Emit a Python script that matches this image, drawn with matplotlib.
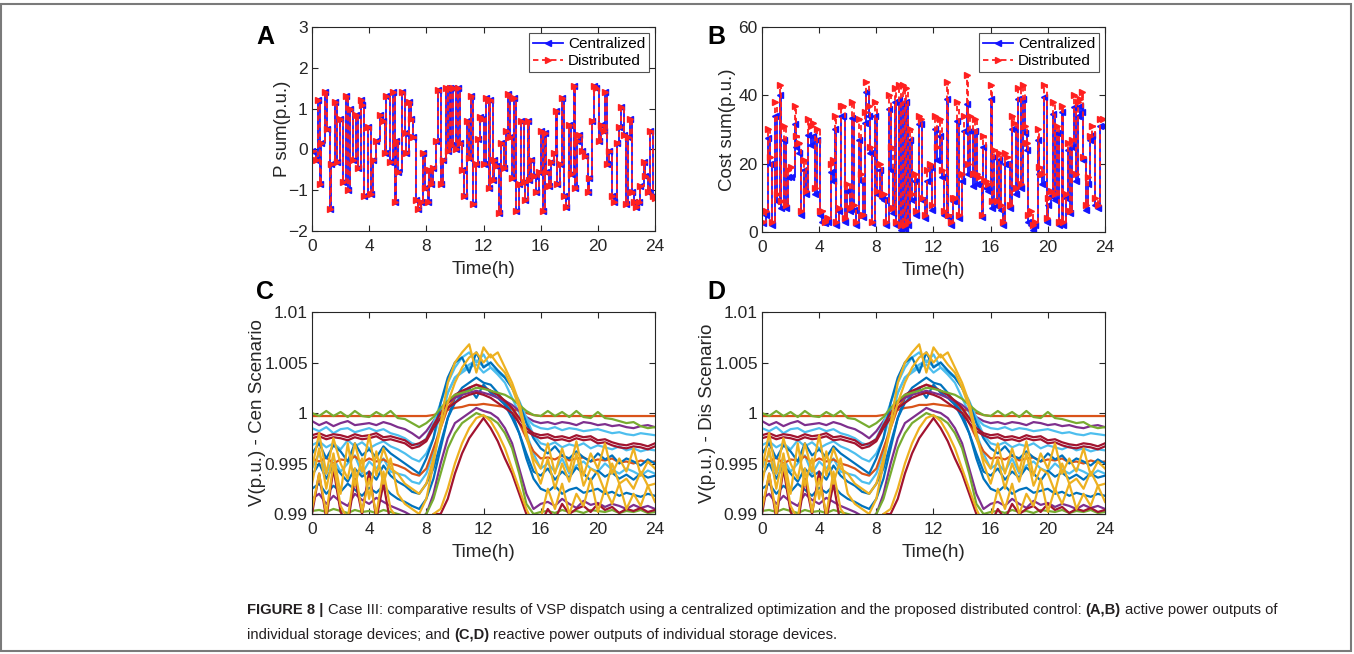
import numpy as np
import matplotlib.pyplot as plt
from matplotlib.patches import Rectangle

plt.rcParams['font.family'] = ['Liberation Sans', 'DejaVu Sans']

# ---- panel A: P sum (p.u.), centralized ~ distributed
p_time = [0.0, 0.3, 0.4, 0.55, 0.65, 0.9, 1.05, 1.25, 1.35, 1.6,
          1.75, 1.95, 2.15, 2.35, 2.55, 2.65, 2.9, 3.05, 3.2, 3.4,
          3.5, 3.65, 3.9, 4.15, 4.25, 4.5, 4.75, 4.95, 5.1, 5.2,
          5.45, 5.7, 5.8, 5.9, 6.05, 6.3, 6.5, 6.6, 6.8, 6.95,
          7.1, 7.25, 7.45, 7.6, 7.75, 7.9, 8.1, 8.2, 8.35, 8.5,
          8.7, 8.85, 9.05, 9.2, 9.35, 9.5, 9.65, 9.75, 9.9, 10.05,
          10.2, 10.35, 10.5, 10.65, 10.85, 11.0, 11.1, 11.25, 11.45, 11.6,
          11.75, 11.9, 12.05, 12.2, 12.35, 12.45, 12.65, 12.75, 12.9, 13.05,
          13.2, 13.4, 13.55, 13.7, 13.85, 14.0, 14.15, 14.3, 14.45, 14.65,
          14.8, 14.9, 15.1, 15.2, 15.35, 15.5, 15.7, 15.85, 16.0, 16.15,
          16.3, 16.4, 16.6, 16.75, 16.9, 17.05, 17.15, 17.35, 17.5, 17.65,
          17.8, 18.0, 18.1, 18.3, 18.4, 18.55, 18.7, 18.9, 19.1, 19.3,
          19.4, 19.6, 19.75, 19.9, 20.05, 20.2, 20.4, 20.5, 20.65, 20.8,
          21.0, 21.15, 21.35, 21.5, 21.65, 21.8, 21.95, 22.1, 22.25, 22.4,
          22.55, 22.7, 22.85, 22.95, 23.2, 23.3, 23.5, 23.65, 23.85, 24.0]
p_sum = [-0.05, -0.25, 1.2, -0.85, 0.15, 1.4, 0.5, -1.45, -0.35, 1.15,
         -0.3, 0.75, -0.8, 1.3, -1.0, 1.0, -0.25, 0.85, -0.45, 1.2,
         1.1, -1.15, 0.55, -1.1, -0.25, 0.2, 0.85, 0.7, -0.1, 1.3,
         -0.3, 1.4, -1.3, 0.2, -0.55, 1.4, 0.4, -0.1, 1.15, 0.75,
         0.3, -1.25, -1.45, -1.3, -0.1, -0.95, -1.3, -0.5, -0.85, -0.45,
         0.2, 1.45, -0.85, -0.25, 1.5, -0.05, 1.5, 0.1, 1.5, 0.0,
         1.5, 0.15, -0.5, -1.15, 0.7, -0.2, 1.3, -1.35, -0.35, 0.25,
         0.8, 0.75, -0.35, 1.25, -0.95, 1.2, -0.75, -0.25, -0.4, -1.55,
         0.15, -0.45, 0.45, 1.35, 0.3, -0.7, 1.25, -1.5, -0.85, 0.7,
         -0.8, -1.25, 0.7, -0.75, -0.25, -0.65, -1.05, -0.55, 0.45, -1.5,
         0.4, -0.55, -0.9, -0.3, -0.1, 0.95, -0.85, -0.35, 1.25, -1.15,
         -1.4, 0.6, -0.6, 1.55, -0.95, 0.2, 0.35, -0.05, -0.15, -1.05,
         -0.7, 0.7, 1.55, 1.5, 0.2, 0.6, 0.45, 1.4, -0.35, -0.05,
         -1.15, -1.3, 0.15, 0.55, 1.05, 0.35, -1.35, 0.3, 0.75, -1.05,
         -1.3, -1.4, -1.3, -0.9, -0.3, -0.65, -1.05, 0.45, -1.15, -1.2]

# ---- panel B: cost sum (p.u.)
c_time = [0.07, 0.3, 0.42, 0.58, 0.72, 0.89, 1.05, 1.24, 1.35, 1.52,
          1.66, 1.82, 2.05, 2.29, 2.4, 2.57, 2.76, 2.92, 3.1, 3.22,
          3.46, 3.57, 3.74, 3.85, 4.04, 4.23, 4.39, 4.62, 4.86, 4.97,
          5.09, 5.21, 5.37, 5.56, 5.67, 5.84, 5.95, 6.14, 6.3, 6.42,
          6.61, 6.79, 6.96, 7.07, 7.19, 7.31, 7.47, 7.59, 7.73, 7.89,
          8.06, 8.24, 8.41, 8.55, 8.71, 8.87, 9.06, 9.18, 9.29, 9.41,
          9.57, 9.71, 9.88, 9.99, 10.11, 10.23, 10.34, 10.51, 10.69, 10.81,
          10.97, 11.11, 11.23, 11.39, 11.56, 11.74, 11.91, 12.09, 12.26, 12.45,
          12.56, 12.75, 12.91, 13.03, 13.19, 13.33, 13.5, 13.66, 13.78, 13.96,
          14.12, 14.31, 14.43, 14.55, 14.73, 14.9, 15.01, 15.18, 15.36, 15.48,
          15.64, 15.83, 15.99, 16.11, 16.25, 16.41, 16.58, 16.72, 16.83, 17.0,
          17.16, 17.35, 17.46, 17.63, 17.77, 17.93, 18.09, 18.23, 18.4, 18.51,
          18.63, 18.8, 18.94, 19.1, 19.29, 19.4, 19.57, 19.73, 19.92, 20.03,
          20.2, 20.38, 20.5, 20.62, 20.78, 20.97, 21.08, 21.25, 21.39, 21.55,
          21.71, 21.83, 21.97, 22.13, 22.25, 22.37, 22.48, 22.65, 22.79, 22.95,
          23.11, 23.3, 23.49, 23.65, 23.88]
cost_cen = [2.5, 5, 27.5, 20, 2, 34, 9, 40, 7, 27,
            7, 16, 16, 31.5, 25, 23, 5, 18, 11, 28.5,
            25.5, 28, 11, 27, 5, 3, 2.5, 3, 17.5, 15,
            30, 2, 6, 34, 34, 3, 12, 6, 33.5, 6.5,
            2, 27, 15, 4.5, 32, 41, 34, 23, 2.5, 34,
            11, 18, 10, 9.5, 2, 36, 18, 5.5, 38, 2,
            38.5, 0.5, 37.5, 1, 38, 2, 27, 9.5, 15, 5,
            31.5, 31.5, 9.5, 4, 15, 19, 6.5, 30, 21, 28,
            16, 5, 39, 4.5, 2, 9, 9, 32.5, 4, 15,
            29.5, 37.5, 17, 29.5, 13.5, 29.5, 14, 14, 4.5, 25,
            13, 12, 39, 7, 22, 7.5, 21, 6.5, 2, 20,
            20, 7, 30, 30, 11, 39, 13, 39, 29, 24,
            3, 2, 0.5, 2, 27, 17, 14, 39.5, 3, 8,
            10.5, 34.5, 9.5, 29, 2, 35, 2, 10, 24, 5.5,
            25, 36.5, 15, 34, 37, 35, 21, 6.5, 14, 27,
            28.5, 8, 7, 31, 31]
cost_dis = [3, 6, 30, 22, 3, 38, 11, 43, 9, 31,
            8, 18, 19, 37, 28, 26, 6, 21, 12, 33,
            31, 32, 13, 30, 6, 6, 3, 4, 20, 21,
            34, 3, 7, 37, 37, 4, 14, 7, 38, 8,
            3, 33, 17, 5, 35, 44, 37, 25, 3, 38,
            12, 20, 11, 11, 3, 40, 25, 7, 42, 3,
            43, 2, 43, 2, 42, 3, 30, 11, 17, 6,
            34, 33, 10, 5, 18, 20, 8, 34, 25, 33,
            18, 6, 44, 5, 3, 10, 10, 38, 5, 17,
            34, 46, 20, 34, 17, 33, 17, 16, 5, 28,
            15, 14, 43, 9, 24, 9, 23, 8, 3, 23,
            22, 8, 34, 32, 13, 42, 14, 43, 31, 26,
            5, 6, 2, 3, 30, 19, 17, 43, 4, 10,
            12, 38, 11, 31, 3, 37, 3, 11, 26, 6,
            27, 40, 17, 38, 39, 41, 22, 8, 16, 28,
            31, 10, 8, 33, 33]

# ---- panels C/D: bus voltages, half-hour steps, in 1e-4 p.u. from 1.0
v_time = [0, 0.5, 1, 1.5, 2, 2.5, 3, 3.5, 4, 4.5, 5, 5.5, 6, 6.5, 7, 7.5, 8,
          8.5, 9, 9.5, 10, 10.5, 11, 11.5, 12, 12.5, 13, 13.5, 14, 14.5, 15,
          15.5, 16, 16.5, 17, 17.5, 18, 18.5, 19, 19.5, 20, 20.5, 21, 21.5,
          22, 22.5, 23, 23.5, 24]
v_orange = [-3, -3, -3, -3, -3, -3, -3, -3, -3, -3, -3, -3, -3, -3, -3, -3, -3,
            -2, 0, 3, 5, 6, 8, 8, 9, 8, 7, 6, 4, 2, 0, -2,
            -3, -3, -3, -3, -3, -3, -3, -3, -3, -3, -3, -3, -3, -3, -3, -3, -3]
v_green = [0, -3, 2, -3, 1, -4, 2, -3, -4, 1, -3, 2, -5, -6, -10, -14, -10,
           -4, 5, 12, 18, 20, 22, 25, 24, 22, 20, 18, 14, 8, 2, -2,
           -3, 2, -3, 1, -4, 2, -4, -5, 1, -5, -6, -8, -10, -9, -13, -15, -14]
v_purple = [-8, -12, -9, -13, -10, -8, -12, -11, -10, -12, -9, -11, -14, -16, -20, -25, -18,
            -8, 2, 10, 15, 18, 20, 22, 20, 18, 15, 12, 8, 2, -4, -8,
            -10, -9, -11, -9, -10, -12, -9, -10, -12, -11, -13, -12, -14, -15, -13, -12, -14]
v_cyan = [-15, -18, -14, -20, -16, -15, -19, -17, -15, -18, -16, -20, -22, -25, -30, -32, -25,
          -10, 10, 30, 45, 55, 60, 50, 58, 45, 40, 35, 25, 10, -5, -12,
          -15, -16, -14, -17, -15, -16, -18, -17, -16, -18, -20, -19, -21, -22, -20, -21, -22]
v_red = [-25, -23, -26, -24, -25, -27, -24, -26, -25, -23, -27, -26, -28, -30, -35, -33, -28,
         -15, -5, 5, 10, 15, 18, 20, 18, 15, 10, 5, 0, -10, -18, -22,
         -25, -24, -27, -26, -28, -25, -27, -26, -30, -29, -32, -34, -35, -33, -34, -36, -33]
v_red3 = [-22, -20, -23, -21, -22, -24, -21, -23, -22, -20, -24, -23, -25, -27, -32, -30, -26,
          -12, 0, 10, 18, 22, 25, 28, 25, 22, 18, 12, 5, -5, -15, -20,
          -22, -21, -24, -23, -25, -22, -24, -23, -27, -26, -29, -31, -32, -30, -31, -33, -30]
v_cyan3 = [-32, -28, -34, -30, -36, -27, -33, -29, -35, -31, -28, -33, -36, -40, -45, -48, -40,
           -25, 0, 20, 35, 42, 48, 52, 46, 50, 42, 36, 25, 12, -5, -22,
           -30, -32, -29, -34, -31, -33, -30, -35, -32, -34, -36, -33, -37, -35, -38, -36, -37]
v_blue = [-40, -30, -45, -32, -38, -48, -30, -42, -36, -44, -33, -40, -45, -50, -55, -60, -45,
          -25, 10, 35, 50, 55, 40, 60, 45, 50, 42, 35, 25, 10, -10, -25,
          -35, -40, -33, -42, -45, -38, -44, -48, -40, -46, -42, -50, -45, -48, -52, -46, -50]
v_orange2 = [-45, -48, -44, -50, -46, -47, -43, -49, -45, -48, -46, -50, -52, -55, -60, -62, -55,
             -35, -15, 5, 15, 20, 25, 28, 26, 22, 18, 12, 5, -10, -25, -38,
             -45, -44, -46, -42, -47, -45, -44, -48, -46, -47, -45, -49, -48, -50, -47, -49, -48]
v_yellow3 = [-55, -20, -60, -25, -50, -65, -30, -58, -22, -62, -35, -55, -60, -70, -75, -80, -70,
             -45, -15, 10, 30, 45, 55, 60, 50, 58, 48, 40, 25, 5, -25, -45,
             -55, -30, -60, -35, -58, -28, -62, -40, -55, -30, -60, -45, -58, -35, -62, -48, -55]
v_cyan2 = [-55, -40, -60, -45, -58, -50, -42, -60, -48, -55, -45, -58, -60, -62, -68, -70, -60,
           -40, -10, 20, 35, 40, 45, 48, 40, 45, 38, 30, 15, 0, -20, -40,
           -55, -50, -58, -45, -60, -52, -48, -55, -58, -50, -56, -60, -55, -58, -62, -57, -60]
v_blue3 = [-62, -50, -65, -52, -60, -68, -55, -63, -58, -66, -52, -62, -68, -72, -78, -80, -70,
           -55, -30, -5, 10, 18, 25, 15, 28, 20, 15, 8, -5, -20, -40, -58,
           -62, -55, -66, -58, -64, -54, -60, -67, -57, -63, -59, -65, -61, -66, -60, -64, -62]
v_blue2 = [-75, -70, -80, -72, -78, -70, -76, -82, -74, -79, -72, -80, -85, -88, -92, -95, -85,
           -65, -35, -5, 15, 25, 30, 35, 30, 28, 20, 10, 0, -20, -45, -65,
           -75, -78, -72, -80, -76, -74, -79, -77, -75, -80, -78, -82, -79, -81, -83, -80, -82]
v_yellow = [-70, -35, -75, -40, -80, -30, -72, -45, -85, -38, -70, -45, -80, -90, -95, -100, -85,
            -50, -10, 30, 50, 60, 68, 40, 65, 55, 60, 45, 30, 10, -20, -50,
            -70, -45, -75, -50, -68, -40, -72, -55, -60, -78, -50, -70, -65, -75, -58, -72, -70]
v_purple2 = [-85, -80, -90, -82, -88, -92, -80, -86, -90, -84, -88, -92, -95, -98, -102, -105, -100,
             -80, -50, -25, -10, -5, 0, 5, 2, 0, -5, -15, -30, -55, -80, -95,
             -90, -88, -92, -85, -90, -94, -87, -91, -89, -93, -90, -92, -95, -91, -94, -92, -95]
v_green2 = [-97, -96, -98, -95, -97, -99, -96, -98, -97, -99, -96, -98, -100, -102, -105, -104, -100,
            -85, -60, -35, -20, -10, -5, 0, -3, -5, -10, -20, -35, -60, -90, -100,
            -98, -97, -99, -96, -98, -97, -99, -96, -97, -98, -96, -99, -97, -98, -96, -99, -98]
v_red2 = [-100, -60, -105, -55, -98, -110, -65, -100, -58, -105, -70, -110, -102, -108, -115, -120, -112,
          -100, -100, -85, -60, -40, -25, -15, -5, -15, -28, -45, -60, -80, -100, -115,
          -110, -95, -105, -90, -100, -95, -92, -98, -90, -96, -93, -99, -95, -97, -94, -98, -96]
v_yellow2 = [-95, -60, -100, -50, -92, -105, -55, -98, -65, -100, -58, -95, -105, -110, -115, -118, -110,
             -100, -95, -75, -50, -30, -15, -5, -2, -8, -20, -35, -55, -75, -95, -110,
             -105, -75, -95, -70, -100, -80, -92, -65, -98, -75, -90, -70, -95, -80, -92, -72, -88]

bus_lines = [(v_orange, '#D95319'), (v_cyan2, '#4DBEEE'), (v_blue2, '#0072BD'),
             (v_purple2, '#7E2F8E'), (v_green2, '#77AC30'), (v_orange2, '#D95319'),
             (v_blue3, '#0072BD'), (v_purple, '#7E2F8E'), (v_cyan3, '#4DBEEE'),
             (v_cyan, '#4DBEEE'), (v_blue, '#0072BD'), (v_red3, '#A2142F'),
             (v_red, '#A2142F'), (v_green, '#77AC30'), (v_yellow3, '#EDB120'),
             (v_red2, '#A2142F'), (v_yellow, '#EDB120'), (v_yellow2, '#EDB120')]

W, H = 1354, 654
fig = plt.figure(figsize=(W / 100, H / 100), dpi=100)
fig.patches.append(Rectangle((0.001, 0.004), 0.997, 0.99, transform=fig.transFigure,
                             fill=False, edgecolor='#7a7a7a', lw=1.5))

def box(l, t, r, b):
    return [l / W, 1 - b / H, (r - l) / W, (b - t) / H]

def style(ax, ylabel, ylab_x, xlab_y):
    for s in ax.spines.values():
        s.set_color('#262626')
        s.set_linewidth(0.8)
    ax.tick_params(direction='in', top=True, right=True, length=4, width=0.8,
                   colors='#262626', labelsize=12.5)
    ax.tick_params(axis='x', pad=6)
    ax.tick_params(axis='y', pad=3)
    ax.set_xlim(0, 24)
    ax.set_xticks(range(0, 25, 4))
    ax.set_xlabel('Time(h)', fontsize=13.5, color='#262626', va='center')
    ax.set_ylabel(ylabel, fontsize=13.5, color='#262626', va='center')
    ax.xaxis.set_label_coords(0.5, xlab_y)
    ax.yaxis.set_label_coords(ylab_x, 0.5)

axA = fig.add_axes(box(312, 27, 655, 231))
axB = fig.add_axes(box(762, 27, 1105, 232))
axC = fig.add_axes(box(312, 312, 655, 514))
axD = fig.add_axes(box(762, 312, 1105, 514))

# A
axA.plot(p_time, p_sum, '-', color='#1414ff', lw=1.3, marker='<', ms=5,
         drawstyle='steps-post', label='Centralized')
axA.plot(p_time, p_sum, '--', color='#ff2020', lw=1.3, marker='>', ms=5,
         drawstyle='steps-post', dashes=(3, 2), label='Distributed')
axA.set_ylim(-2, 3)
style(axA, 'P sum(p.u.)', -0.087, -0.19)

# B
axB.plot(c_time, cost_cen, '-', color='#1414ff', lw=1.3, marker='<', ms=5,
         drawstyle='steps-post', label='Centralized')
axB.plot(c_time, cost_dis, '--', color='#ff2020', lw=1.3, marker='>', ms=5,
         drawstyle='steps-post', dashes=(3, 2), label='Distributed')
axB.set_ylim(0, 60)
axB.set_yticks([0, 20, 40, 60])
style(axB, 'Cost sum(p.u.)', -0.102, -0.19)

for ax in (axA, axB):
    leg = ax.legend(loc='upper right', fontsize=11, frameon=True, fancybox=False,
                    borderpad=0.25, labelspacing=0.2, handlelength=2.0, handletextpad=0.3,
                    borderaxespad=0.4)
    leg.get_frame().set_edgecolor('#262626')
    leg.get_frame().set_linewidth(0.8)

# C, D
for ax, lab in ((axC, 'V(p.u.) - Cen Scenario'), (axD, 'V(p.u.) - Dis Scenario')):
    for vals, col in bus_lines:
        ax.plot(v_time, 1 + np.array(vals) / 10000, color=col, lw=1.6)
    ax.set_ylim(0.99, 1.01)
    ax.set_yticks([0.99, 0.995, 1.0, 1.005, 1.01])
    ax.set_yticklabels(['0.99', '0.995', '1', '1.005', '1.01'])
    style(ax, lab, -0.16, -0.19)

for lab, x, y in (('A', 265, 37), ('B', 716, 37), ('C', 265, 292), ('D', 716, 292)):
    fig.text(x / W, 1 - y / H, lab, fontsize=18, fontweight='bold', va='center', ha='center')

# caption with bold runs
renderer = fig.canvas.get_renderer()
cap_kw = dict(fontsize=10.6, color='#231f20', va='baseline')

def word_width(s, bold):
    t = fig.text(0, 0, s, fontweight='bold' if bold else 'normal', **cap_kw)
    w = t.get_window_extent(renderer).width
    t.remove()
    return w

space = word_width('x x', False) - word_width('xx', False)

def runs(x, y, parts):
    for s, bold in parts:
        t = fig.text(x / W, 1 - y / H, s, fontweight='bold' if bold else 'normal', **cap_kw)
        x += t.get_window_extent(renderer).width + space

runs(247, 614, [('FIGURE 8 |', True),
                ('Case III: comparative results of VSP dispatch using a centralized optimization '
                 'and the proposed distributed control:', False),
                ('(A,B)', True), ('active power outputs of', False)])
runs(247, 639, [('individual storage devices; and', False), ('(C,D)', True),
                ('reactive power outputs of individual storage devices.', False)])

fig.savefig('out.png', dpi=100)
